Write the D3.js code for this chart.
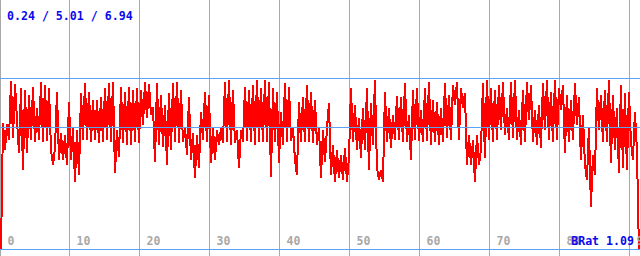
<!DOCTYPE html>
<html>
<head>
<meta charset="utf-8">
<script src="https://cdn.jsdelivr.net/npm/d3@7"></script>
<style>
  html, body { margin: 0; padding: 0; background: #ffffff; }
  svg { display: block; }
  text { font-family: "DejaVu Sans Mono", "Liberation Mono", monospace; font-weight: bold; }
</style>
</head>
<body>
<svg id="chart" width="640" height="256"></svg>
<script>
// ---- data ----
const timeTicks = [0, 10, 20, 30, 40, 50, 60, 70, 80, 90];
const secondsPerSample = 0.2861;
const brat = [
  0.24, 5.20, 4.14, 5.16, 4.53, 6.84, 4.61, 6.72, 5.31, 4.02,
  6.56, 3.36, 6.48, 4.02, 6.29, 4.53, 6.60, 4.45, 5.78, 4.53,
  6.80, 4.45, 6.68, 4.49, 6.56, 4.14, 3.55, 4.22, 6.41, 3.75,
  4.80, 3.75, 4.73, 3.55, 6.02, 3.75, 5.00, 2.89, 4.92, 3.16,
  6.37, 4.53, 6.76, 4.53, 6.41, 4.45, 6.09, 4.53, 6.09, 4.41,
  6.21, 4.45, 6.56, 4.53, 6.76, 4.45, 6.80, 3.24, 4.92, 3.87,
  6.60, 4.41, 6.41, 4.34, 6.60, 4.34, 6.48, 4.45, 6.56, 4.41,
  6.48, 5.12, 6.80, 5.39, 6.72, 5.51, 5.82, 3.67, 6.76, 4.34,
  6.29, 4.26, 5.90, 3.55, 6.37, 4.14, 6.76, 4.45, 6.80, 4.41,
  6.48, 4.45, 5.04, 3.95, 6.21, 3.75, 4.80, 3.05, 4.73, 3.44,
  5.63, 4.53, 6.41, 4.45, 6.29, 3.63, 5.00, 3.75, 4.92, 4.34,
  5.00, 4.41, 6.80, 4.45, 6.88, 4.34, 6.48, 4.41, 4.92, 3.44,
  4.92, 4.45, 6.60, 4.49, 6.48, 4.45, 6.68, 4.34, 6.88, 4.45,
  6.56, 4.45, 6.88, 4.45, 6.80, 3.09, 6.56, 4.45, 6.41, 3.63,
  5.63, 4.34, 6.76, 4.45, 6.60, 4.49, 5.00, 3.75, 3.16, 6.02,
  4.45, 6.21, 4.45, 6.68, 4.45, 6.41, 4.41, 6.09, 4.34, 5.00,
  3.05, 4.92, 3.67, 5.00, 5.98, 3.16, 4.34, 2.89, 4.14, 3.05,
  3.95, 2.97, 4.22, 2.89, 3.83, 6.56, 4.45, 5.90, 4.14, 5.39,
  3.83, 5.78, 4.14, 6.56, 3.36, 5.98, 4.34, 6.88, 3.44, 2.97,
  3.36, 2.89, 6.41, 4.45, 5.78, 4.22, 5.51, 4.53, 6.25, 4.53,
  6.21, 4.45, 6.76, 4.45, 5.51, 3.75, 6.48, 4.53, 6.56, 4.49,
  5.70, 4.45, 6.56, 4.49, 6.80, 4.34, 6.09, 4.45, 6.02, 4.34,
  5.78, 4.45, 6.76, 4.61, 6.29, 4.53, 6.68, 5.90, 6.80, 4.53,
  6.56, 5.78, 6.37, 3.55, 4.73, 3.55, 4.53, 2.89, 4.73, 3.55,
  4.14, 6.76, 3.83, 6.88, 4.53, 6.56, 4.45, 6.48, 4.53, 6.68,
  4.92, 6.80, 4.73, 5.78, 4.53, 6.80, 4.61, 6.88, 4.53, 5.70,
  4.34, 6.48, 4.45, 6.80, 5.31, 6.68, 4.45, 5.70, 4.34, 5.90,
  4.22, 6.76, 4.92, 6.88, 4.53, 6.41, 4.45, 6.88, 4.53, 6.56,
  5.70, 6.68, 4.02, 6.29, 4.45, 6.09, 4.53, 6.76, 5.12, 6.21,
  3.75, 5.51, 3.55, 2.97, 5.04, 1.91, 3.95, 3.16, 6.56, 4.92,
  6.29, 4.45, 6.48, 4.45, 6.88, 3.63, 6.29, 4.14, 5.78, 3.24,
  6.68, 3.44, 6.37, 3.36, 6.41, 4.45, 3.75, 5.63, 4.14, 0.24
];
const statNames = ["min", "avg", "max"];
const statValues = [0.24, 5.01, 6.94];
const statLabel = "0.24 / 5.01 / 6.94";
const ratioLabel = "BRat 1.09";

// ---- drawing ----
const W = 640, H = 256;
const svg = d3.select("#chart");
const x = d3.scaleLinear().domain([0, 91.56]).range([0, W]);
const y = d3.scaleLinear().domain([0, 10]).range([H, 0]);
const crisp = v => Math.max(0.5, Math.floor(v) + 0.5);

// vertical grid
svg.append("g").selectAll("line").data(timeTicks).join("line")
  .attr("x1", d => crisp(x(d))).attr("x2", d => crisp(x(d)))
  .attr("y1", 0).attr("y2", H)
  .attr("stroke", "#a9a9a9").attr("stroke-width", 1);

// series
const line = d3.line()
  .x((d, i) => x(i * secondsPerSample) + 1)
  .y(d => y(d));
svg.append("path").datum(brat)
  .attr("d", line)
  .attr("fill", "none")
  .attr("stroke", "#ff0000")
  .attr("stroke-width", 2)
  .attr("shape-rendering", "crispEdges")
  .attr("stroke-linejoin", "bevel");

// stat lines
svg.append("g").selectAll("line").data(statValues).join("line")
  .attr("x1", 0).attr("x2", W)
  .attr("y1", d => crisp(y(d))).attr("y2", d => crisp(y(d)))
  .attr("stroke", "#5ca2f2").attr("stroke-width", 1);

// tick labels
svg.append("g").selectAll("text").data(timeTicks).join("text")
  .attr("x", d => crisp(x(d)) + 7)
  .attr("y", 245)
  .attr("font-size", "11.5px")
  .attr("fill", "#a8a8a8")
  .text(d => d);

// stats text
svg.append("text")
  .attr("x", 7).attr("y", 19.5)
  .attr("font-size", "11.6px")
  .attr("fill", "#0a0aee")
  .text(statLabel);

svg.append("text")
  .attr("x", 634).attr("y", 245)
  .attr("text-anchor", "end")
  .attr("font-size", "11.6px")
  .attr("fill", "#0a0aee")
  .text(ratioLabel);
</script>
</body>
</html>
